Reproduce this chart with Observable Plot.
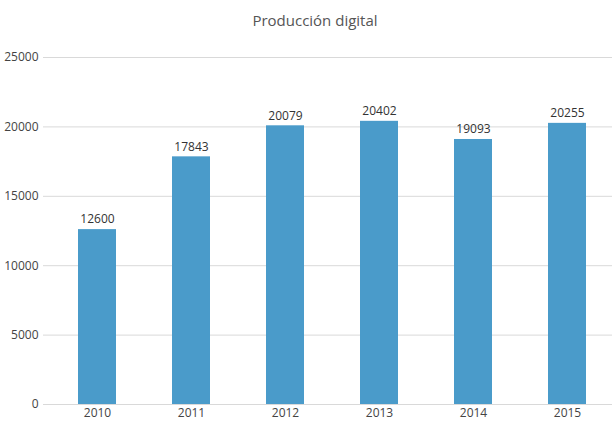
<!DOCTYPE html>
<html><head><meta charset="utf-8">
<script src="https://cdn.jsdelivr.net/npm/d3@7"></script>
<script src="https://cdn.jsdelivr.net/npm/@observablehq/plot@0.6"></script>
<style>
body{margin:0;background:#fff;font-family:"Open Sans",sans-serif;}
#title{height:40px;line-height:40px;text-align:center;font-size:15px;color:#555;padding-left:18px;}
</style></head><body>
<div id="title">Producción digital</div>
<div id="chart"></div>
<script>
const years = ["2010","2011","2012","2013","2014","2015"];
const values = [12600,17843,20079,20402,19093,20255];
const yTicks = [0,5000,10000,15000,20000,25000];
const data = years.map((y,i)=>({year:y, value:values[i]}));
const chart = Plot.plot({
  width:612, height:382,
  marginLeft:43, marginRight:0, marginTop:17, marginBottom:18,
  style:{fontFamily:"Open Sans, sans-serif", fontSize:"12px", color:"#444", background:"transparent"},
  x:{domain:years, range:[50,614], paddingInner:0.6, paddingOuter:0.3, label:null},
  y:{domain:[0,25000], ticks:yTicks, label:null},
  marks:[
    Plot.gridY(yTicks,{stroke:"#d9d9d9", strokeOpacity:1}),
    Plot.axisY({ticks:yTicks, tickSize:0, tickPadding:5, tickFormat:d=>String(d), fontSize:12, label:null}),
    Plot.axisX({tickSize:0, tickPadding:4, fontSize:12, label:null}),
    Plot.barY(data,{x:"year", y:"value", fill:"#4a9bca"}),
    Plot.text(data,{x:"year", y:"value", text:d=>String(d.value), dy:-10, fill:"#333", fontSize:12})
  ]
});
document.getElementById("chart").appendChild(chart);
</script>
</body></html>
